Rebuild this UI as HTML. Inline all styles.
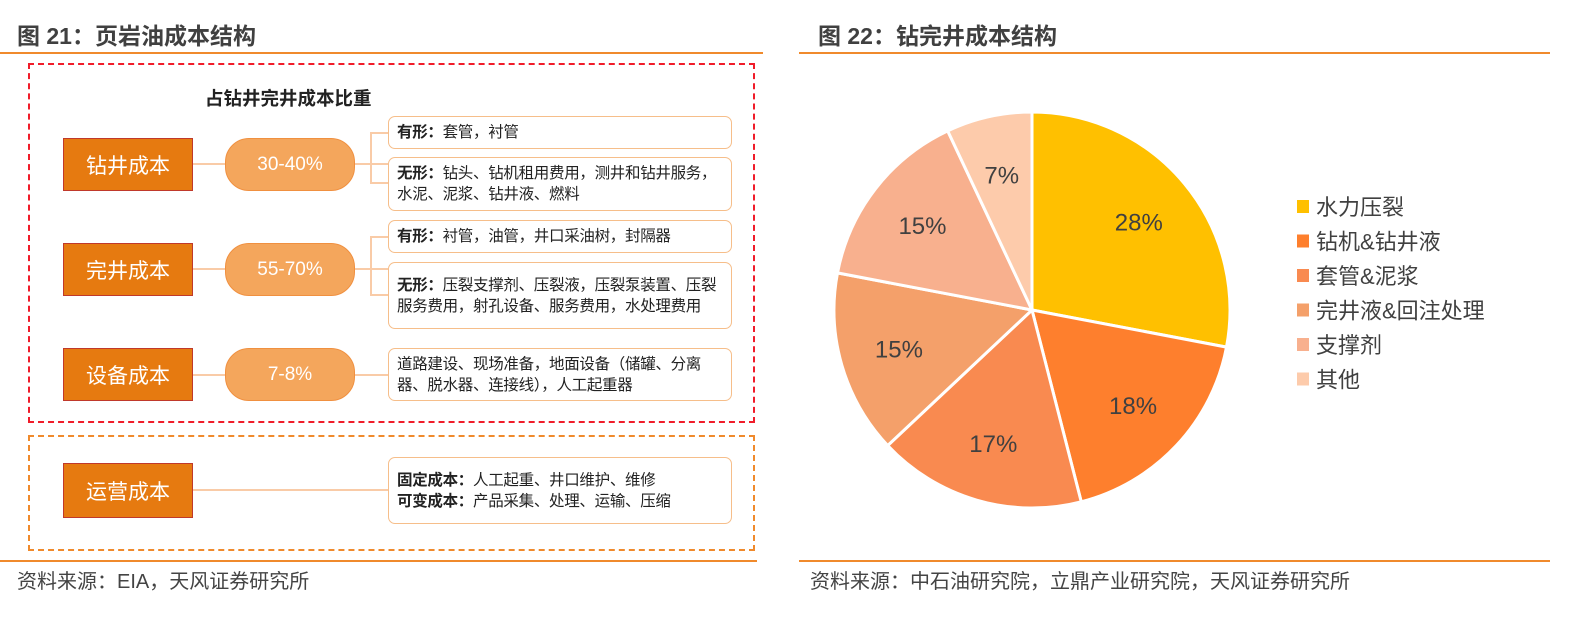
<!DOCTYPE html>
<html><head><meta charset="utf-8">
<style>
*{margin:0;padding:0;box-sizing:border-box}
body{width:1580px;height:619px;background:#fff;position:relative;overflow:hidden;font-family:"Liberation Sans","Noto Sans CJK SC",sans-serif;color:#333}
.a{position:absolute}
.title{font-size:23px;font-weight:bold;color:#404040;top:17px}
.hl{height:2px;background:#F08A2C}
.src{font-size:20px;color:#444;top:565px}
.rect{background:#E67A10;border:1px solid #C0392B;color:#fff;font-size:21px;display:flex;align-items:center;justify-content:center}
.pill{background:#F4A65C;border:1.5px solid #F09040;border-radius:24px;color:#fff;font-size:19px;display:flex;align-items:center;justify-content:center}
.tb{border:1.5px solid #F6BE8A;border-radius:7px;background:#fff;font-size:15.5px;line-height:21px;padding:3px 8px;color:#222;display:flex;flex-direction:column;justify-content:center;letter-spacing:-0.3px}
.ln{background:#F9CBA7}
</style></head><body>
<div class="a title" style="left:17px">图 21：页岩油成本结构</div>
<div class="a hl" style="left:0;top:52px;width:763px"></div>
<div class="a title" style="left:818px">图 22：钻完井成本结构</div>
<div class="a hl" style="left:799px;top:52px;width:751px"></div>

<div class="a" style="left:28px;top:63px;width:727px;height:360px;border:2px dashed #F01C2A"></div>
<div class="a" style="left:28px;top:435px;width:727px;height:116px;border:2px dashed #F08A2C"></div>
<div class="a" style="left:205px;top:85px;font-size:18.5px;font-weight:bold;color:#222">占钻井完井成本比重</div>

<div class="a ln" style="left:193px;top:163px;width:195px;height:2px"></div>
<div class="a ln" style="left:370px;top:132px;width:2px;height:51px"></div>
<div class="a ln" style="left:370px;top:132px;width:18px;height:2px"></div>
<div class="a ln" style="left:370px;top:182px;width:18px;height:2px"></div>
<div class="a ln" style="left:193px;top:268px;width:195px;height:2px"></div>
<div class="a ln" style="left:370px;top:236px;width:2px;height:59px"></div>
<div class="a ln" style="left:370px;top:236px;width:18px;height:2px"></div>
<div class="a ln" style="left:370px;top:294px;width:18px;height:2px"></div>
<div class="a ln" style="left:193px;top:374px;width:195px;height:2px"></div>
<div class="a ln" style="left:193px;top:489px;width:195px;height:2px"></div>

<div class="a rect" style="left:63px;top:138px;width:130px;height:53px">钻井成本</div>
<div class="a pill" style="left:225px;top:138px;width:130px;height:53px">30-40%</div>
<div class="a tb" style="left:388px;top:116px;width:344px;height:33px"><div><b>有形：</b>套管，衬管</div></div>
<div class="a tb" style="left:388px;top:157px;width:344px;height:54px"><div><b>无形：</b>钻头、钻机租用费用，测井和钻井服务，水泥、泥浆、钻井液、燃料</div></div>

<div class="a rect" style="left:63px;top:243px;width:130px;height:53px">完井成本</div>
<div class="a pill" style="left:225px;top:243px;width:130px;height:53px">55-70%</div>
<div class="a tb" style="left:388px;top:220px;width:344px;height:33px"><div><b>有形：</b>衬管，油管，井口采油树，封隔器</div></div>
<div class="a tb" style="left:388px;top:262px;width:344px;height:67px"><div><b>无形：</b>压裂支撑剂、压裂液，压裂泵装置、压裂服务费用，射孔设备、服务费用，水处理费用</div></div>

<div class="a rect" style="left:63px;top:348px;width:130px;height:53px">设备成本</div>
<div class="a pill" style="left:225px;top:348px;width:130px;height:53px">7-8%</div>
<div class="a tb" style="left:388px;top:348px;width:344px;height:53px"><div>道路建设、现场准备，地面设备（储罐、分离器、脱水器、连接线），人工起重器</div></div>

<div class="a rect" style="left:63px;top:463px;width:130px;height:55px">运营成本</div>
<div class="a tb" style="left:388px;top:457px;width:344px;height:67px"><div><b>固定成本：</b>人工起重、井口维护、维修</div><div><b>可变成本：</b>产品采集、处理、运输、压缩</div></div>

<div class="a hl" style="left:0;top:560px;width:757px;height:1.5px"></div>
<div class="a src" style="left:17px">资料来源：EIA，天风证券研究所</div>
<div class="a hl" style="left:799px;top:560px;width:751px;height:1.5px"></div>
<div class="a src" style="left:810px">资料来源：中石油研究院，立鼎产业研究院，天风证券研究所</div>

<svg class="a" style="left:0;top:0" width="1580" height="619" id="pie"></svg>
<script>
const categories=["水力压裂","钻机&钻井液","套管&泥浆","完井液&回注处理","支撑剂","其他"];
const values=[28,18,17,15,15,7];
const labels=["28%","18%","17%","15%","15%","7%"];
const colors=["#FFC000","#FE7F2D","#F98A50","#F4A06A","#F8B08E","#FDCBAB"];
const svg=document.getElementById('pie');
const NS="http://www.w3.org/2000/svg";
const cx=1032,cy=310,r=198;
const total=values.reduce((a,b)=>a+b,0);
let acc=0;
function pt(f,rr){const a=f*2*Math.PI-Math.PI/2;return [cx+rr*Math.cos(a),cy+rr*Math.sin(a)];}
values.forEach((v,i)=>{
  const f0=acc/total,f1=(acc+v)/total;acc+=v;
  const p0=pt(f0,r),p1=pt(f1,r);
  const large=(f1-f0)>0.5?1:0;
  const p=document.createElementNS(NS,'path');
  p.setAttribute('d',`M${cx},${cy}L${p0[0]},${p0[1]}A${r},${r} 0 ${large} 1 ${p1[0]},${p1[1]}Z`);
  p.setAttribute('fill',colors[i]);p.setAttribute('stroke','#fff');p.setAttribute('stroke-width','3');
  
  
  svg.appendChild(p);
  const m=pt((f0+f1)/2,r*0.7);
  const t=document.createElementNS(NS,'text');
  t.setAttribute('x',m[0]);t.setAttribute('y',m[1]+9);t.setAttribute('text-anchor','middle');
  t.setAttribute('font-size','24');t.setAttribute('fill','#404040');
  t.setAttribute('font-family','"Liberation Sans",sans-serif');
  t.textContent=labels[i];
  
  
  svg.appendChild(t);
  const ly=207+i*34.5;
  const rc=document.createElementNS(NS,'rect');
  rc.setAttribute('x',1297);rc.setAttribute('y',ly-7);rc.setAttribute('width',12);rc.setAttribute('height',13);rc.setAttribute('fill',colors[i]);
  
  
  svg.appendChild(rc);
  const lt=document.createElementNS(NS,'text');
  lt.setAttribute('x',1316);lt.setAttribute('y',ly+8);lt.setAttribute('font-size','22');lt.setAttribute('fill','#404040');
  lt.setAttribute('font-family','"Liberation Sans","Noto Sans CJK SC",sans-serif');
  lt.textContent=categories[i];
  
  
  svg.appendChild(lt);
});
</script>
</body></html>
